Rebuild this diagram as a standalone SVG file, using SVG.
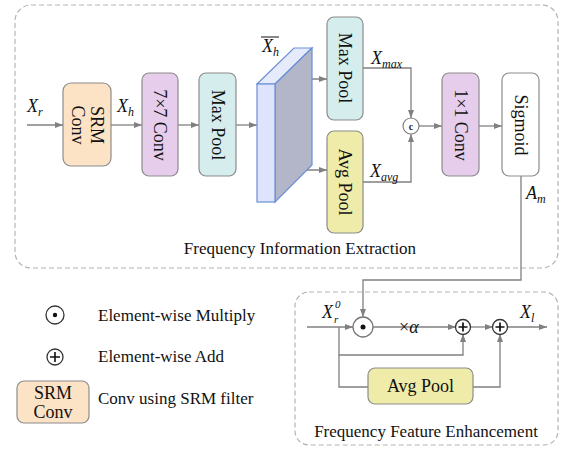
<svg xmlns="http://www.w3.org/2000/svg" width="566" height="449" viewBox="0 0 566 449">
<defs>
<marker id="arr" markerWidth="8" markerHeight="6" refX="8" refY="3" orient="auto" markerUnits="userSpaceOnUse"><path d="M0,0 L8,3 L0,6 z" fill="#808080"/></marker>
<style>
.dash{fill:none;stroke:#b4b4b4;stroke-width:1.2;stroke-dasharray:5 3}
.box{stroke:#8c8c8c;stroke-width:1.2}
.lbl{font-family:"Liberation Serif",serif;font-size:18px;fill:#111;text-anchor:middle}
.txt{font-family:"Liberation Serif",serif;font-size:17px;fill:#111}
.math{font-family:"Liberation Serif",serif;font-style:italic;font-size:18px;fill:#111}
.sub{font-size:12px}
.con{fill:none;stroke:#808080;stroke-width:1.3}
.arr{marker-end:url(#arr)}
.op{fill:#fff;stroke:#333;stroke-width:1.3}
</style>
</defs>
<rect class="dash" x="15" y="5" width="543" height="263" rx="16"/>
<rect class="dash" x="295" y="292" width="263" height="153" rx="14"/>
<text class="txt" x="300" y="254" text-anchor="middle">Frequency Information Extraction</text>
<text class="txt" x="426" y="437" text-anchor="middle">Frequency Feature Enhancement</text>

<g id="connectors">
<path class="con arr" d="M27,125 H63"/>
<path class="con arr" d="M111,125 H142"/>
<path class="con arr" d="M178,125 H199"/>
<path class="con arr" d="M236,125 H257"/>
<path class="con arr" d="M293,79 H327"/>
<path class="con arr" d="M293,170 H327"/>
<path class="con arr" d="M363,68 H411 V118"/>
<path class="con arr" d="M363,182 H411 V134"/>
<path class="con arr" d="M419,126 H442"/>
<path class="con arr" d="M479,126 H502"/>
<path class="con arr" d="M521,176 V280 H363 V317"/>
<path class="con arr" d="M307,327 H353"/>
<path class="con arr" d="M373,327 H456"/>
<path class="con arr" d="M470,327 H493"/>
<path class="con arr" d="M507,327 H547"/>
<path class="con arr" d="M339,327 V355 H463 V334"/>
<path class="con" d="M339,355 V387 H368"/>
<path class="con arr" d="M473,387 H500 V334"/>
</g>

<text class="math" x="27" y="112">X<tspan class="sub" dy="4">r</tspan></text>
<text class="math" x="117" y="112">X<tspan class="sub" dy="4">h</tspan></text>
<text class="math" x="262" y="52">X<tspan class="sub" dy="4">h</tspan></text>
<line x1="261" y1="37" x2="279" y2="37" stroke="#111" stroke-width="1"/>
<text class="math" x="371" y="64">X<tspan class="sub" dy="4">max</tspan></text>
<text class="math" x="370" y="177">X<tspan class="sub" dy="4">avg</tspan></text>
<text class="math" x="526" y="199">A<tspan class="sub" dy="4">m</tspan></text>
<text class="math" x="322" y="318">X</text>
<text class="math" x="334" y="323" style="font-size:11px">r</text>
<text class="math" x="335" y="308" style="font-size:11px">0</text>
<text class="math" x="520" y="318">X<tspan class="sub" dy="4">l</tspan></text>
<text class="math" x="399" y="333"><tspan style="font-style:normal">×</tspan>α</text>

<g id="srm">
<rect class="box" x="63" y="83" width="48" height="83" rx="8" fill="#fde3c6"/>
<g transform="translate(87,125) rotate(90)"><text class="lbl" x="0" y="-4">SRM</text><text class="lbl" x="0" y="15">Conv</text></g>
</g>
<g id="conv7">
<rect class="box" x="142" y="73" width="36" height="103" rx="7" fill="#e6cdeb"/>
<text class="lbl" transform="translate(160,125) rotate(90)" x="0" y="6">7×7 Conv</text>
</g>
<g id="maxpool1">
<rect class="box" x="199" y="73" width="37" height="103" rx="7" fill="#d5eded"/>
<text class="lbl" transform="translate(217.5,125) rotate(90)" x="0" y="6">Max Pool</text>
</g>
<g id="cuboid">
<polygon points="257,84 294,48 312,48 275,84" fill="#e6ebfc" stroke="#6a8fd6" stroke-width="1.2"/>
<polygon points="275,84 312,48 312,165 275,202" fill="#b2b6c8" stroke="#6a8fd6" stroke-width="1.2"/>
<rect x="257" y="84" width="18" height="118" fill="#dde4fb" stroke="#6a8fd6" stroke-width="1.2"/>
</g>
<g id="maxpool2">
<rect class="box" x="327" y="17" width="36" height="103" rx="7" fill="#d5eded"/>
<text class="lbl" transform="translate(345,68) rotate(90)" x="0" y="6">Max Pool</text>
</g>
<g id="avgpool1">
<rect class="box" x="327" y="131" width="36" height="102" rx="7" fill="#eeeca8"/>
<text class="lbl" transform="translate(345,182) rotate(90)" x="0" y="6">Avg Pool</text>
</g>
<g id="concat">
<circle cx="411" cy="126" r="8" fill="#fff" stroke="#808080" stroke-width="1.2"/>
<text x="411" y="129.5" font-family="Liberation Serif,serif" font-size="10" font-weight="bold" text-anchor="middle" fill="#222">c</text>
</g>
<g id="conv1">
<rect class="box" x="442" y="73" width="37" height="103" rx="7" fill="#e6cdeb"/>
<text class="lbl" transform="translate(460.5,125) rotate(90)" x="0" y="6">1×1 Conv</text>
</g>
<g id="sigmoid">
<rect class="box" x="502" y="73" width="37" height="103" rx="7" fill="#fff"/>
<text class="lbl" transform="translate(520.5,125) rotate(90)" x="0" y="6">Sigmoid</text>
</g>

<g id="mul">
<circle cx="363" cy="327" r="10" fill="#fff" stroke="#777" stroke-width="1.3"/>
<circle cx="363" cy="327" r="2.5" fill="#111"/>
</g>
<g id="add1">
<circle class="op" cx="463" cy="327" r="7.5"/>
<path d="M458.5,327 H467.5 M463,322.5 V331.5" stroke="#111" stroke-width="1.7"/>
</g>
<g id="add2">
<circle class="op" cx="500" cy="327" r="7.5"/>
<path d="M495.5,327 H504.5 M500,322.5 V331.5" stroke="#111" stroke-width="1.7"/>
</g>
<g id="avgpool2">
<rect class="box" x="368" y="368" width="105" height="36" rx="7" fill="#eeeca8"/>
<text class="lbl" x="420.5" y="392">Avg Pool</text>
</g>

<g id="legend">
<circle class="op" cx="55" cy="315" r="9"/>
<circle cx="55" cy="315" r="2.2" fill="#111"/>
<text class="txt" x="98" y="321">Element-wise Multiply</text>
<circle class="op" cx="55" cy="357" r="8"/>
<path d="M50,357 H60 M55,352 V362" stroke="#111" stroke-width="1.6"/>
<text class="txt" x="98" y="362">Element-wise Add</text>
<rect class="box" x="17" y="381" width="72" height="42" rx="7" fill="#fde3c6"/>
<text class="lbl" x="53" y="399">SRM</text>
<text class="lbl" x="53" y="418">Conv</text>
<text class="txt" x="98" y="404">Conv using SRM filter</text>
</g>
</svg>
